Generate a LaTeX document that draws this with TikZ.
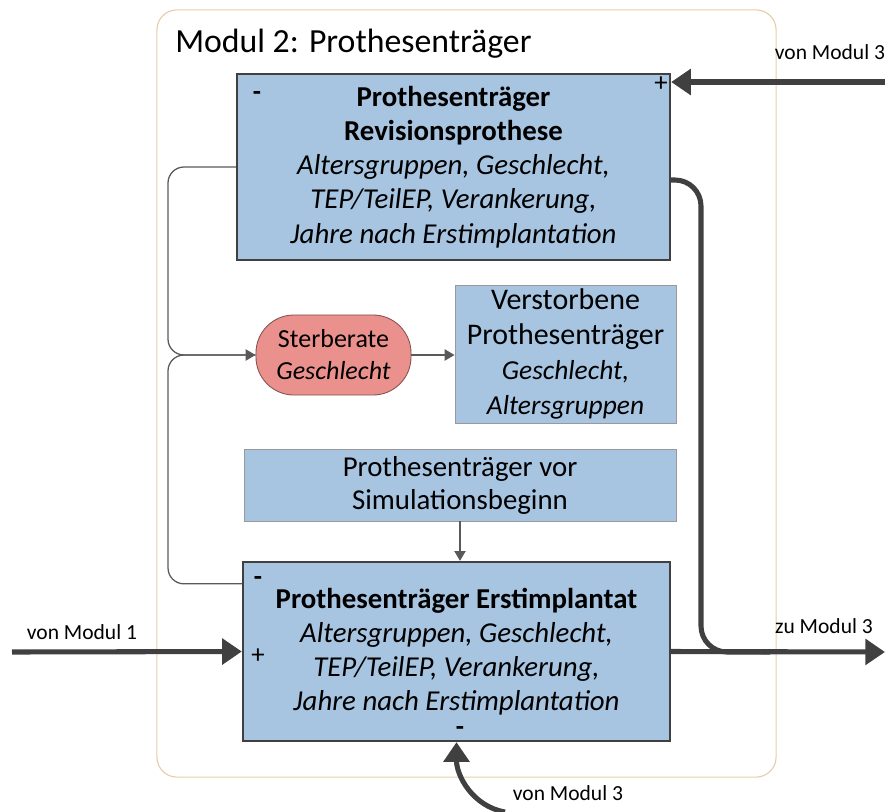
\documentclass[tikz,border=0pt]{standalone}
\usepackage{fontspec}
\setmainfont{Carlito}
\usetikzlibrary{arrows.meta,positioning,shapes}

\definecolor{boxblue}{RGB}{167,196,224}
\definecolor{ratered}{RGB}{234,145,142}
\definecolor{framebeige}{RGB}{232,204,168}
\definecolor{linegray}{RGB}{64,64,64}

\tikzset{
  stockbox/.style={draw=linegray, line width=1.6pt, fill=boxblue, align=center, inner sep=2pt,
    font=\fontsize{20.5}{24.3}\selectfont},
  infobox/.style={draw=gray!80, line width=0.6pt, fill=boxblue, align=center, inner sep=2pt,
    font=\fontsize{20.5}{23.5}\selectfont},
  ratebox/.style={draw=ratered!55!black, line width=0.6pt, fill=ratered, rounded corners=0.95cm,
    align=center, inner sep=2pt, font=\fontsize{18.5}{22.8}\selectfont},
  thinarrow/.style={draw=gray!70!black, line width=0.9pt, rounded corners=0.4cm,
    -{Triangle[length=7pt,width=8pt]}},
  bigarrow/.style={draw=linegray, line width=3.6pt, rounded corners=0.6cm,
    -{Triangle[length=14pt,width=18pt]}},
  bigline/.style={draw=linegray, line width=3.6pt, rounded corners=0.65cm},
  sign/.style={inner sep=0pt, font=\fontsize{19}{19}\selectfont},
  portlabel/.style={inner sep=0pt, font=\fontsize{15.3}{17}\selectfont}
}

\begin{document}
\begin{tikzpicture}[x=0.025cm, y=-0.025cm]
    \useasboundingbox (0,0) rectangle (890,811);

    % module frame
    \node (modul) [draw=framebeige, line width=0.8pt, rounded corners=0.5cm,
        minimum width=15.475cm, minimum height=19.175cm] at (466.5,393.5) {};
    \node (titel) [anchor=west, inner sep=0pt, font=\fontsize{24}{26}\selectfont] at (175,44) {Modul 2: Prothesenträger};

    % stocks and flows inside
    \node (rev) [stockbox, minimum width=10.825cm, minimum height=4.65cm] at (453.5,167)
        {\textbf{Prothesenträger}\\ \textbf{Revisionsprothese}\\ \textit{Altersgruppen, Geschlecht,}\\
         \textit{TEP/TeilEP, Verankerung,}\\ \textit{Jahre nach Erstimplantation}};
    \node (rate) [ratebox, minimum width=3.875cm, minimum height=2cm] at (333.5,355)
        {Sterberate\\ \textit{Geschlecht}};
    \node (tot) [infobox, minimum width=5.525cm, minimum height=3.45cm,
        font=\fontsize{21.3}{24.8}\selectfont] at (565.5,354)
        {Verstorbene\\ Prothesenträger\\ {\fontsize{19.5}{24.8}\selectfont\textit{Geschlecht,}}\\
         {\fontsize{19.5}{24.8}\selectfont\textit{Altersgruppen}}};
    \node (vor) [infobox, minimum width=10.8cm, minimum height=1.8cm] at (460,485)
        {Prothesenträger vor\\ Simulationsbeginn};
    \node (erst) [stockbox, minimum width=10.675cm, minimum height=4.475cm] at (456.5,651.5)
        {\textbf{Prothesenträger Erstimplantat}\\ \textit{Altersgruppen, Geschlecht,}\\
         \textit{TEP/TeilEP, Verankerung,}\\ \textit{Jahre nach Erstimplantation}};

    % signs
    \node (revplus) [sign] at (661,84) {+};
    \node (revminus) [sign] at (257,96) {\textbf{-}};
    \node (erstminus) [sign] at (258,581) {\textbf{-}};
    \node (erstplus) [sign] at (258,656) {+};
    \node (erstbot) [sign] at (460,731) {\textbf{-}};

    % outer ends
    \coordinate (in3top) at (885,82);
    \coordinate (out3) at (885,652);
    \coordinate (in1) at (12,652);
    \coordinate (in3bot) at (505,812);
    \coordinate (split) at (168,355);

    \node (lblin3top) [portlabel] at (830,52) {von Modul 3};
    \node (lblout3) [portlabel] at (824,626) {zu Modul 3};
    \node (lblin1) [portlabel] at (82,632) {von Modul 1};
    \node (lblin3bot) [portlabel] at (568,793) {von Modul 3};

    % thin connectors
    \draw[thinarrow] (rev.west) -| (split) -- (rate.west);
    \draw[thinarrow, -] ([yshift=-0.575cm]erst.north west) -| (split) -- (rate.west);
    \draw[thinarrow] (rate.east) -- (rate.east -| tot.west);
    \draw[thinarrow] (vor.south) -- (vor.south |- erst.north);

    % thick connectors
    \draw[bigarrow] (in3top) -- (in3top -| rev.east);
    \draw[bigline] ([yshift=-0.325cm]rev.east) -| (701,652) -- (770,652);
    \draw[bigarrow] (erst.east) -- (out3);
    \draw[bigarrow] (in1) -- (erst.west);
    \draw[bigarrow] (in3bot) to[out=170, in=-90] (erst.south);

\end{tikzpicture}
\end{document}
